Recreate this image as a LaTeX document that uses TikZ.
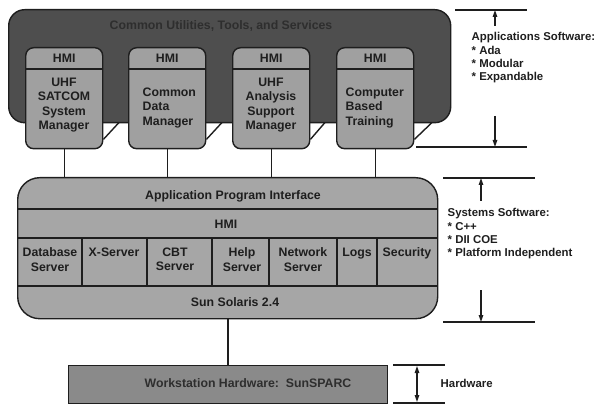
\documentclass[tikz,border=0pt]{standalone}
\usepackage{fontspec}
\setmainfont{Liberation Sans}
\usetikzlibrary{arrows.meta}
\definecolor{darkfill}{HTML}{4E4E4E}
\definecolor{boxfill}{HTML}{A0A0A0}
\definecolor{sysfill}{HTML}{A6A6A6}
\definecolor{hwfill}{HTML}{8A8A8A}
\definecolor{ink}{HTML}{1E1E1E}
\definecolor{dimtext}{HTML}{2E2E2E}
\begin{document}
\begin{tikzpicture}[x=1pt,y=-1pt,
  font=\bfseries\fontsize{12.3}{14.5}\selectfont,
  line width=1.4pt, draw=ink,
  appbox/.style={draw=ink, fill=boxfill, rounded corners=8pt, minimum width=77pt, minimum height=101pt, anchor=north west, inner sep=0pt},
  lbl/.style={inner sep=0pt, text=ink},
  ann/.style={line width=1.2pt, draw=ink},
  arr/.style={line width=1.2pt, draw=ink, -{Triangle[length=7pt,width=4.5pt]}},
  note/.style={inner sep=0pt, anchor=north west, align=left, text=ink, font=\bfseries\fontsize{11.4}{13.2}\selectfont}
]
\useasboundingbox (0,0) rectangle (594,406);

% utilities background
\node (util) [draw=ink, fill=darkfill, rounded corners=16pt, minimum width=442pt, minimum height=113pt, anchor=north west, inner sep=0pt] at (8,9) {};
\node (utiltxt) [lbl, text=dimtext] at (221,26) {Common Utilities, Tools, and Services};

% diagonal shadows
\coordinate (d1) at (119,122.5);
\coordinate (d2) at (222,122.5);
\coordinate (d3) at (325,122.5);
\coordinate (d4) at (432,122.5);

% application boxes
\node (b1) [appbox] at (25,47) {};
\node (b2) [appbox] at (128,47) {};
\node (b3) [appbox] at (232,47) {};
\node (b4) [appbox] at (336,47) {};
\foreach \i in {1,2,3,4}{
  \draw ([yshift=-22pt]b\i.north west) -- ([yshift=-22pt]b\i.north east);
  \draw ([yshift=10pt]b\i.south east) -- (d\i);
}
\node (h1) [lbl] at ([yshift=-11pt]b1.north) {HMI};
\node (h2) [lbl] at ([yshift=-11pt]b2.north) {HMI};
\node (h3) [lbl] at ([yshift=-11pt]b3.north) {HMI};
\node (h4) [lbl] at ([yshift=-11pt]b4.north) {HMI};
\node (t1) [lbl, align=center, anchor=north] at (64,77) {UHF\\SATCOM\\System\\Manager};
\node (t2) [lbl, align=left, anchor=north west] at (142,87) {Common\\Data\\Manager};
\node (t3) [lbl, align=center, anchor=north] at (271,77) {UHF\\Analysis\\Support\\Manager};
\node (t4) [lbl, align=left, anchor=north west] at (345,87) {Computer\\Based\\Training};

% systems software block
\node (sys) [draw=ink, fill=sysfill, rounded corners=22pt, minimum width=420pt, minimum height=141pt, anchor=north west, inner sep=0pt] at (17,177) {};
\foreach \i in {1,2,3,4}{
  \draw (b\i.south) -- (b\i.south |- sys.north);
}
\draw (17,209) -- (437,209);
\draw (17,238) -- (437,238);
\draw (17,286) -- (437,286);
\foreach \x in {82,147,212,269,337,377}{
  \draw (\x,238) -- (\x,286);
}
\node (api) [lbl] at (233,196) {Application Program Interface};
\node (hmi) [lbl] at (226,224) {HMI};
\node (s1) [lbl, align=center, anchor=north] at (50,247) {Database\\Server};
\node (s2) [lbl, align=center, anchor=north] at (114,247) {X-Server};
\node (s3) [lbl, align=center, anchor=north] at (175,247) {CBT\\Server};
\node (s4) [lbl, align=center, anchor=north] at (242,247) {Help\\Server};
\node (s5) [lbl, align=center, anchor=north] at (303,247) {Network\\Server};
\node (s6) [lbl, align=center, anchor=north] at (357,247) {Logs};
\node (s7) [lbl, align=center, anchor=north] at (407,247) {Security};
\node (sol) [lbl] at (235,302) {Sun Solaris 2.4};

% hardware
\node (hw) [draw=ink, fill=hwfill, minimum width=319pt, minimum height=38pt, anchor=north west, inner sep=0pt] at (68,365) {};
\node (hwtxt) [lbl, text=dimtext] at (248,383) {Workstation Hardware:\ \ SunSPARC};
\coordinate (hwtop) at (228,365);
\draw (hwtop |- sys.south) -- (hwtop);

% right-side annotations
\coordinate (a1l) at (455,10);  \coordinate (a1r) at (527,10);
\coordinate (a2l) at (416,147); \coordinate (a2r) at (527,147);
\coordinate (aup0) at (495,26); \coordinate (aup1) at (495,10);
\coordinate (adn0) at (495,116); \coordinate (adn1) at (495,147);
\draw[ann] (a1l) -- (a1r);
\draw[ann] (a2l) -- (a2r);
\draw[arr] (aup0) -- (aup1);
\draw[arr] (adn0) -- (adn1);
\node (appnote) [note] at (471,32) {Applications Software:\\* Ada\\* Modular\\* Expandable};

\coordinate (s1l) at (443,178); \coordinate (s1r) at (535,178);
\coordinate (s2l) at (443,322); \coordinate (s2r) at (535,322);
\coordinate (sup0) at (481,201); \coordinate (sup1) at (481,178);
\coordinate (sdn0) at (481,290); \coordinate (sdn1) at (481,322);
\draw[ann] (s1l) -- (s1r);
\draw[ann] (s2l) -- (s2r);
\draw[arr] (sup0) -- (sup1);
\draw[arr] (sdn0) -- (sdn1);
\node (sysnote) [note] at (447,208) {Systems Software:\\* C++\\* DII COE\\* Platform Independent};

\coordinate (h1l) at (393,365); \coordinate (h1r) at (445,365);
\coordinate (h2l) at (393,403); \coordinate (h2r) at (445,403);
\coordinate (hu) at (417,366); \coordinate (hd) at (417,402);
\draw[ann] (h1l) -- (h1r);
\draw[ann] (h2l) -- (h2r);
\draw[ann, {Triangle[length=7pt,width=4.5pt]}-{Triangle[length=7pt,width=4.5pt]}] (hu) -- (hd);
\node (hwnote) [note, anchor=west] at (440,383) {Hardware};
\end{tikzpicture}
\end{document}
